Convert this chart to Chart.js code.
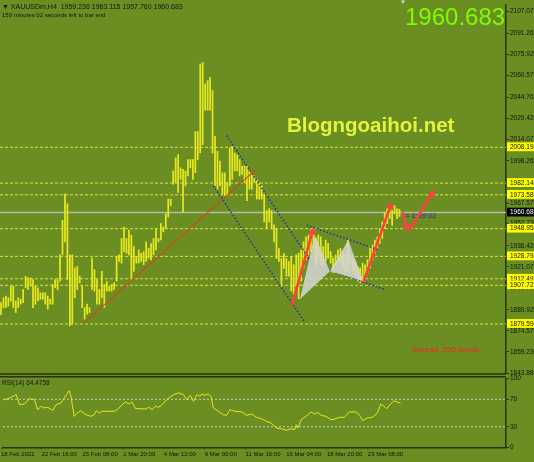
<!DOCTYPE html>
<html>
<head>
<meta charset="utf-8">
<script src="https://cdn.jsdelivr.net/npm/chart.js@4.4.1/dist/chart.umd.min.js"></script>
<style>
html,body{margin:0;padding:0;background:#6b8e23;width:534px;height:462px;overflow:hidden;font-family:"Liberation Sans",Arial,sans-serif}
#wrap{position:relative;width:534px;height:462px}
canvas{position:absolute;left:0}
#main{top:0}
#rsi{top:372px}
.t{position:absolute;white-space:nowrap;line-height:1}
</style>
</head>
<body>
<div id="wrap">
  <div class="t" style="left:405px;top:212px;font-size:7.5px;color:#1f2f9a">&#8776; 1:59:02</div>
  <canvas id="main" width="534" height="384"></canvas>
  <canvas id="rsi" width="534" height="90"></canvas>
  <div class="t" style="left:2px;top:2.5px;font-size:7px;color:#151515">&#9660; XAUUSDm,H4&nbsp; 1959.236 1963.115 1957.760 1960.683</div>
  <div class="t" style="left:2px;top:12px;font-size:6px;color:#151515">159 minutes 02 seconds left to bar end</div>
  <div class="t" style="left:400px;top:-1px;font-size:6px;color:#d8d8d8">&#9660;</div>
  <div class="t" style="left:405px;top:4.5px;font-size:24px;color:#7cfc00">1960.683</div>
  <div class="t" style="left:287px;top:114.5px;font-size:20.5px;font-weight:bold;color:#e3f43a">Blogngoaihoi.net</div>
  <div class="t" style="left:412px;top:346px;font-size:8px;color:#ff2020">Spread: 200 points</div>
  <div class="t" style="left:2px;top:379.5px;font-size:6.5px;color:#151515">RSI(14) 64.4758</div>
</div>
<script>
// H4 bars (index 0 = 18 Feb 00:00)
const highs=[1895.1,1898.7,1899.9,1898.7,1907.1,1907.1,1896.3,1898.7,1897.6,1904.7,
1914.3,1913.1,1913.1,1911.9,1907.1,1905.9,1902.3,1902.3,1902.3,1899.9,
1897.6,1908.3,1911.9,1911.9,1929.9,1955.0,1974.1,1967.0,1929.9,1929.9,
1920.3,1921.5,1914.3,1907.1,1891.5,1894.0,1891.5,1927.5,1919.1,1911.9,
1904.7,1917.9,1908.3,1910.7,1907.1,1908.3,1909.5,1928.7,1929.9,1941.8,
1950.2,1941.8,1947.9,1944.3,1935.9,1928.7,1933.5,1931.0,1932.3,1939.4,
1934.6,1938.2,1941.8,1949.0,1941.8,1952.6,1950.2,1959.8,1970.5,1970.5,
1991.0,2000.5,2002.9,1993.3,1992.1,1991.0,1999.3,1999.3,1999.3,2019.7,
2019.7,2068.8,2070.0,2054.4,2056.8,2059.2,2049.6,2016.1,2005.3,1998.1,
1989.7,1989.7,1982.5,2007.7,2008.9,2004.1,2002.9,1999.3,1994.5,1994.5,
1994.5,1991.0,1989.7,1987.4,1984.9,1982.5,1980.2,1974.1,1962.2,1963.4,
1962.2,1951.7,1948.8,1934.4,1927.2,1930.8,1927.2,1925.1,1928.7,1922.7,
1929.9,1931.0,1933.5,1939.4,1943.0,1944.3,1947.9,1949.0,1941.8,1944.3,
1943.0,1935.9,1940.7,1938.2,1932.3,1927.5,1929.9,1933.5,1934.6,1932.3,
1929.9,1940.9,1929.9,1927.5,1925.1,1921.5,1920.3,1923.9,1922.7,1926.3,
1935.9,1937.1,1940.7,1943.0,1949.0,1953.8,1961.0,1963.4,1965.8,1962.2,
1965.8,1963.4,1963.1];
const lows=[1886.3,1891.5,1891.5,1892.7,1896.3,1891.5,1887.9,1891.5,1894.0,1895.1,
1905.9,1904.7,1907.1,1891.5,1894.0,1896.3,1897.6,1897.6,1894.0,1890.4,
1894.0,1894.0,1905.9,1904.7,1910.7,1929.9,1939.4,1911.9,1878.4,1879.6,
1898.7,1904.7,1909.5,1891.5,1883.2,1886.8,1887.9,1904.7,1903.5,1894.0,
1894.0,1898.7,1891.5,1903.5,1903.5,1903.5,1904.7,1910.7,1925.1,1923.9,
1932.3,1931.0,1929.9,1913.1,1917.9,1923.9,1923.9,1925.1,1922.7,1925.1,
1927.5,1926.3,1929.9,1933.5,1939.4,1940.7,1946.6,1949.0,1957.4,1965.8,
1981.3,1982.5,1975.4,1984.9,1961.0,1980.2,1987.4,1993.3,1984.9,1989.7,
1999.3,2004.1,2010.1,2035.2,2035.2,2035.2,2004.1,1980.2,1977.7,1980.2,
1974.1,1973.0,1973.0,1980.2,1984.9,1991.0,1991.0,1987.4,1988.5,1982.5,
1969.4,1977.7,1977.7,1982.5,1970.5,1970.5,1970.5,1953.8,1949.0,1953.8,
1949.0,1939.4,1927.2,1925.1,1907.1,1920.0,1914.3,1914.3,1903.5,1901.4,
1907.1,1897.8,1910.7,1920.3,1926.3,1929.9,1932.3,1934.6,1920.3,1927.5,
1922.7,1921.5,1925.1,1927.5,1923.9,1916.7,1922.7,1925.1,1923.9,1920.3,
1916.7,1917.9,1922.7,1917.9,1915.5,1910.7,1909.5,1910.7,1915.5,1916.7,
1920.3,1926.3,1931.0,1934.6,1938.2,1941.8,1949.0,1952.6,1956.2,1951.4,
1959.8,1956.2,1957.8];

// RSI(14) readings: bar index and value
const rsiIdx=[0,1.6,3.7,5.0,6.4,8.4,10.4,12.5,13.8,15.2,16.5,17.9,19.9,21.3,23.3,24.7,26.7,27.4,28.7,30.1,
31.4,33.5,35.5,36.9,37.8,38.9,40.2,42.3,45.0,46.3,48.4,49.7,51.1,52.4,53.8,55.8,57.9,59.2,60.6,61.9,
63.3,64.6,66.0,67.3,69.4,71.4,73.4,74.8,76.2,77.5,78.9,80.2,80.9,82.2,83.6,84.7,85.6,87.7,89.7,91.1,
92.4,94.4,97.2,99.2,101.2,103.3,105.3,107.3,109.3,111.4,113.4,115.4,117.5,118.8,119.5,120.2,121.5,123.6,125.6,127.0,
128.3,129.7,131.7,133.7,135.8,137.1,139.2,141.2,143.9,145.3,146.6,148.6,150.7,152.7,154.1,155.4,156.5,158.1,159.5,160.8,162.2];
const rsiVal=[69.4,70.8,74.3,76.7,62.1,63.1,70.8,69.4,54.8,59.8,57.3,58.3,53.9,62.1,64.6,71.9,82.5,74.3,45.2,50.0,
53.4,47.5,45.2,47.5,53.4,50.0,52.5,52.5,52.5,54.8,62.1,66.0,63.1,66.0,56.3,56.3,55.8,58.3,54.8,59.8,
58.3,62.1,67.0,71.9,76.7,79.2,76.7,69.4,75.8,67.0,76.7,74.3,77.7,75.8,77.7,74.3,57.3,52.5,47.5,46.6,
54.8,52.5,51.5,46.6,48.5,43.7,41.7,37.9,35.4,28.1,27.1,24.8,27.1,25.7,32.9,28.1,40.2,45.2,51.5,48.5,
51.0,46.6,45.2,40.2,41.7,43.7,43.7,51.5,51.5,47.5,38.8,42.7,43.7,50.0,63.1,59.8,56.3,63.1,67.9,66.0,64.48];
const rsiLevels=[70,30];
const rsiTicks=[100,70,30,0];

// price axis labels and horizontal levels
const axisTicks=[2107.075,2091.261,2075.920,2060.573,2044.763,2029.420,2014.075,1998.263,1982.918,1967.575,
1952.730,1936.420,1921.075,1905.730,1889.920,1874.575,1859.230,1843.885];
const levelPrices=[2008.194,1982.145,1973.580,1948.958,1928.794,1912.497,1907.729,1879.594];
const lastPrice=1960.683;

const dateIdx=[-1.2,15.4,32.1,48.8,65.4,82.1,98.8,115.4,132.1,148.8];
const dateLabels=['18 Feb 2022','22 Feb 16:00','25 Feb 08:00','1 Mar 20:00','4 Mar 12:00','9 Mar 00:00','11 Mar 16:00','16 Mar 04:00','18 Mar 20:00','23 Mar 08:00'];

// drawn objects: [bar index, price]
const trendLine=[[33.5,1880.0],[103.7,1992.1]];
const channelUp=[[91.7,2016.8],[126.8,1922.9]];
const channelDn=[[86.3,1980.2],[123.6,1880.5]];
const patternAC=[[124.3,1951.4],[153.3,1933.7]];
const patternXD=[[126.8,1922.9],[156.1,1904.7]];
const triXAB=[[121.5,1897.6],[127.6,1944.3],[133.7,1917.9],[121.5,1897.6]];
const triBCD=[[133.7,1917.9],[141.2,1940.7],[147.3,1910.7],[133.7,1917.9]];
const arrows=[
  [[118.2,1892.7],[126.6,1946.6]],
  [[147.3,1910.0],[158.3,1965.3]],
  [[163.3,1961.0],[164.8,1950.2]],
  [[165.9,1947.3],[175.2,1974.6]]
];

const X_MIN=-0.41, X_MAX=205.3;
const P_MIN=1843.9, P_MAX=2111.86;
const FONT='"Liberation Sans", Arial, sans-serif';
const DARK='#26330d';

function pts(a){return a.map(p=>({x:p[0],y:p[1]}));}
function line(a,opts){
  return Object.assign({type:'line',data:pts(a),pointRadius:0,borderWidth:1,fill:false,tension:0},opts);
}
function arrowRot(c){
  const d=c.dataset.data,i=c.dataIndex;
  if(i===0) return 0;
  const sx=c.chart.scales.x,sy=c.chart.scales.y;
  const dx=sx.getPixelForValue(d[i].x)-sx.getPixelForValue(d[i-1].x);
  const dy=sy.getPixelForValue(d[i].y)-sy.getPixelForValue(d[i-1].y);
  return Math.atan2(dx,-dy)*180/Math.PI;
}

const frame={
  id:'frame',
  afterDraw(chart,args,o){
    const {ctx,chartArea:a}=chart;
    ctx.save();
    ctx.strokeStyle=DARK;ctx.lineWidth=1.5;
    ctx.beginPath();
    if(o.bottom){ctx.moveTo(0,a.bottom+1);ctx.lineTo(a.right,a.bottom+1);}
    if(o.top){ctx.moveTo(0,a.top-2);ctx.lineTo(a.right,a.top-2);}
    ctx.stroke();
    ctx.restore();
  }
};

const datasets=[];
levelPrices.forEach(L=>datasets.push(line([[X_MIN,L],[X_MAX,L]],{borderColor:'#e0e040',borderDash:[3,2],order:30})));
datasets.push(line([[X_MIN,lastPrice],[X_MAX,lastPrice]],{borderColor:'#b8bcae',borderWidth:1.5,order:29}));
datasets.push({type:'bar',data:highs.map((h,i)=>({x:i,y:[lows[i],h]})),backgroundColor:'#e6e61e',
  barThickness:1.1,borderWidth:0,grouped:false,order:20});
[channelUp,channelDn,patternAC,patternXD].forEach(a=>datasets.push(line(a,{borderColor:'#24349e',borderWidth:1.6,borderDash:[1.5,2],order:10})));
[triXAB,triBCD].forEach(a=>datasets.push(line(a,{borderWidth:0,fill:'shape',backgroundColor:'rgba(214,214,214,0.85)',order:8})));
datasets.push(line(trendLine,{borderColor:'#d8441c',borderWidth:1.2,order:6}));
arrows.forEach(a=>datasets.push(line(a,{borderColor:'#ff4040',borderWidth:2.6,order:1,
  pointStyle:'triangle',pointBackgroundColor:'#ff4040',pointBorderWidth:0,
  pointRadius:c=>c.dataIndex===c.dataset.data.length-1?4.5:0,
  pointRotation:arrowRot})));

new Chart(document.getElementById('main'),{
  type:'bar',
  data:{datasets},
  options:{
    responsive:false,animation:false,devicePixelRatio:1,
    layout:{autoPadding:false,padding:{left:0,right:0,top:0,bottom:11}},
    plugins:{legend:{display:false},tooltip:{enabled:false},frame:{bottom:true}},
    scales:{
      x:{type:'linear',min:X_MIN,max:X_MAX,display:false,offset:false},
      y:{position:'right',min:P_MIN,max:P_MAX,
        afterFit(s){s.width=28;},
        afterBuildTicks(s){s.ticks=[...axisTicks,...levelPrices,lastPrice].map(v=>({value:v}));},
        border:{display:true,color:DARK,width:1.5},
        grid:{drawOnChartArea:false,drawTicks:true,tickLength:3,color:DARK},
        ticks:{autoSkip:false,padding:1,font:{family:FONT,size:6.5},
          color:c=>c.tick&&c.tick.value===lastPrice?'#ffffff':'#111111',
          showLabelBackdrop:true,
          backdropColor:c=>{
            if(!c.tick) return 'rgba(0,0,0,0)';
            if(c.tick.value===lastPrice) return '#000000';
            return levelPrices.includes(c.tick.value)?'#ffff00':'rgba(0,0,0,0)';
          },
          backdropPadding:{top:1,bottom:0,left:3,right:4},
          callback:v=>v.toFixed(3)}
      }
    }
  },
  plugins:[frame]
});

const rsiSets=[];
rsiLevels.forEach(L=>rsiSets.push(line([[X_MIN,L],[X_MAX,L]],{borderColor:'#c8cfc0',borderDash:[2,2],order:5})));
rsiSets.push({type:'line',data:rsiIdx.map((x,i)=>({x,y:rsiVal[i]})),borderColor:'#e6e61e',borderWidth:1,
  pointRadius:0,fill:false,tension:0,order:1});

new Chart(document.getElementById('rsi'),{
  type:'line',
  data:{datasets:rsiSets},
  options:{
    responsive:false,animation:false,devicePixelRatio:1,
    layout:{autoPadding:false,padding:{left:0,right:0,top:6.7,bottom:0}},
    plugins:{legend:{display:false},tooltip:{enabled:false},frame:{top:true}},
    scales:{
      x:{type:'linear',min:X_MIN,max:X_MAX,
        afterBuildTicks(s){s.ticks=dateIdx.map(v=>({value:v}));},
        afterFit(s){s.height=14.7;},
        border:{display:true,color:DARK,width:1.5},
        grid:{drawOnChartArea:false,drawTicks:true,tickLength:2,color:DARK},
        ticks:{autoSkip:false,maxRotation:0,minRotation:0,align:'start',padding:1,
          font:{family:FONT,size:6},color:'#111111',
          callback:(v,i)=>dateLabels[i]}
      },
      y:{position:'right',min:0,max:100,
        afterFit(s){s.width=28;},
        afterBuildTicks(s){s.ticks=rsiTicks.map(v=>({value:v}));},
        border:{display:true,color:DARK,width:1.5},
        grid:{drawOnChartArea:false,drawTicks:true,tickLength:3,color:DARK},
        ticks:{autoSkip:false,padding:1,font:{family:FONT,size:6.5},color:'#111111'}
      }
    }
  },
  plugins:[frame]
});
</script>
</body>
</html>
